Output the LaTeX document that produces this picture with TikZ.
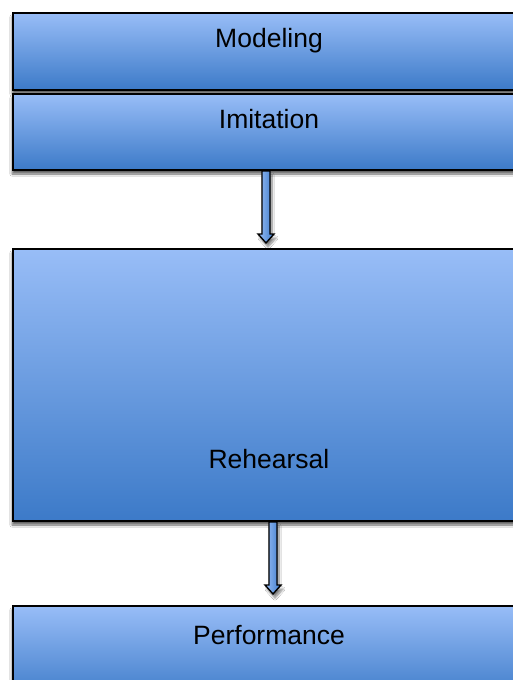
\documentclass[tikz,border=0pt]{standalone}
\usepackage{fontspec}
\setmainfont{Liberation Sans}
\definecolor{blue1}{RGB}{152, 189, 247}
\definecolor{blue2}{RGB}{60, 122, 200}
\usetikzlibrary{calc, shadows.blur}

\begin{document}
\begin{tikzpicture}[
  x=1pt, y=-1pt,
  stage/.style={draw, line width=2pt, top color=blue1, bottom color=blue2, anchor=north west,
    text width=512pt, align=center, inner sep=0pt, font=\fontsize{26.5}{30}\selectfont,
    blur shadow={shadow xshift=-1pt, shadow yshift=-4pt, shadow blur steps=8, shadow opacity=60}},
  barrow/.style={draw, line width=1.4pt, line join=miter, left color=blue1, right color=blue2,
    blur shadow={shadow xshift=2pt, shadow yshift=-4pt, shadow blur steps=8, shadow opacity=50}}
]
  \useasboundingbox (0,0) rectangle (513,680);
  \clip (0,0) rectangle (513,680);
  \fill[white] (0,0) rectangle (513,680);

  \node[stage, text height=34pt, text depth=43pt] (model) at (12,12) {Modeling};
  \node[stage, text height=34pt, text depth=42pt] (imit) at (12,93) {Imitation};
  \node[stage, text height=219pt, text depth=53pt] (rehe) at (12,248) {Rehearsal};
  \node[stage, text height=38pt, text depth=57pt] (perf) at (12,605) {Performance};

  % block arrows between the stages
  \draw[barrow] ($(imit.south)+(-7,0)$) -- ++(0,63) -- ++(-4,0) -- ++(8,9)
    -- ++(8,-9) -- ++(-4,0) |- cycle;
  \draw[barrow] ($(rehe.south)+(0,0)$) -- ++(0,63) -- ++(-4,0) -- ++(8,9)
    -- ++(8,-9) -- ++(-4,0) |- cycle;
\end{tikzpicture}
\end{document}
